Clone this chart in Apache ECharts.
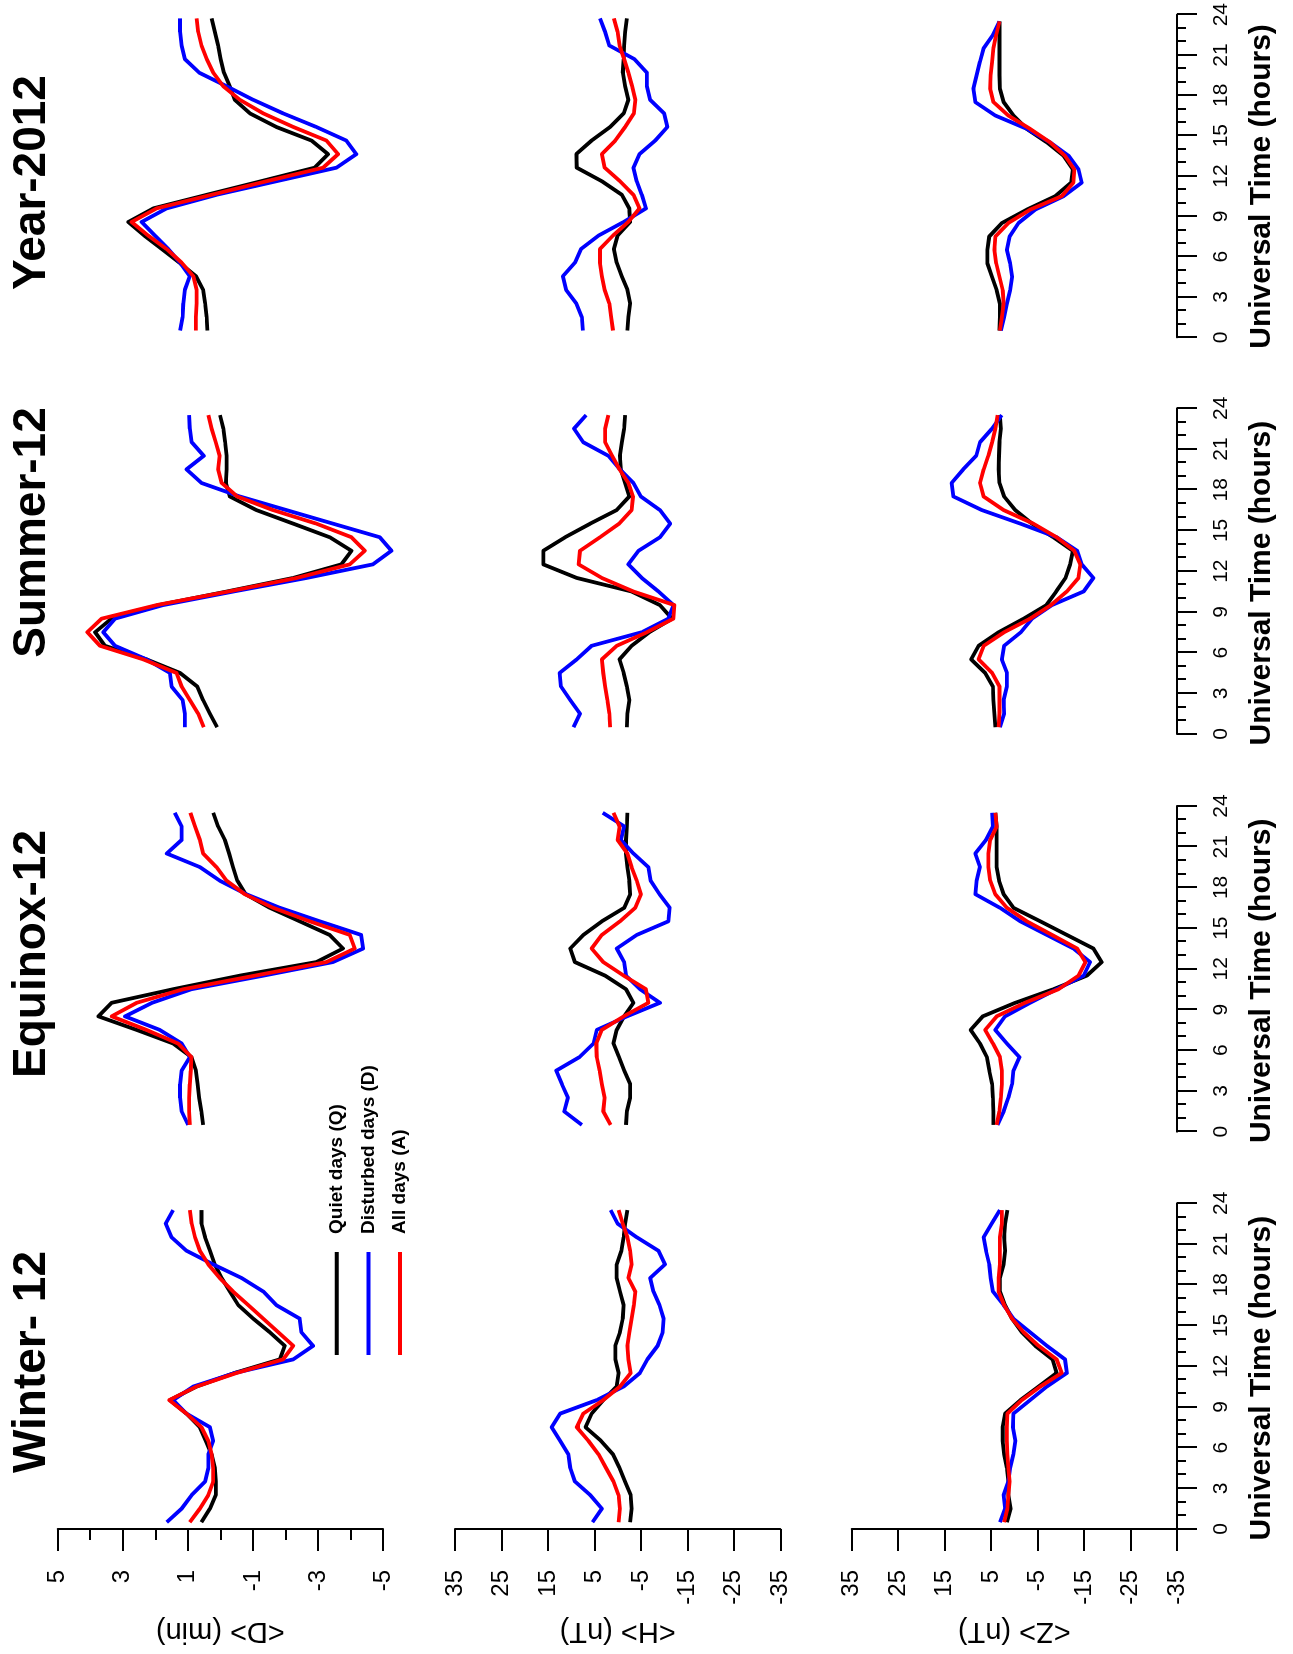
<!DOCTYPE html>
<html>
<head>
<meta charset="utf-8">
<script src="https://cdn.jsdelivr.net/npm/echarts@6/dist/echarts.min.js"></script>
<style>
html,body{margin:0;padding:0;background:#fff;overflow:hidden;width:1293px;height:1654px;}
#wrap{position:absolute;left:0;top:0;width:1654px;height:1293px;transform-origin:0 0;transform:translate(0,1654px) rotate(-90deg);}
#chart{width:1654px;height:1293px;background:#fff;}
</style>
</head>
<body>
<div id="wrap"><div id="chart"></div></div>
<script>
// ---------------- DATA ----------------
const hours = [0.5,1.5,2.5,3.5,4.5,5.5,6.5,7.5,8.5,9.5,10.5,11.5,12.5,13.5,14.5,15.5,16.5,17.5,18.5,19.5,20.5,21.5,22.5,23.5];
const seriesNames = ['Quiet days (Q)', 'Disturbed days (D)', 'All days (A)'];
const seasonTitles = ['Winter- 12', 'Equinox-12', 'Summer-12', 'Year-2012'];
const componentNames = ['<D> (min)', '<H> (nT)', '<Z> (nT)'];
const timeAxisTitle = 'Universal Time (hours)';

// Winter
const winterD_Q = [0.58,0.32,0.14,0.14,0.17,0.27,0.45,0.63,1.04,1.55,0.73,-0.44,-1.83,-1.98,-1.52,-1.01,-0.55,-0.29,-0.04,0.17,0.32,0.47,0.58,0.58];
const winterD_D = [1.65,1.19,0.88,0.47,0.37,0.37,0.22,0.32,1.04,1.45,0.83,-0.45,-2.24,-2.85,-2.49,-2.44,-1.72,-1.32,-0.65,0.22,1.04,1.50,1.68,1.45];
const winterD_A = [0.94,0.63,0.37,0.22,0.22,0.27,0.37,0.58,1.04,1.57,0.73,-0.50,-1.93,-2.24,-1.78,-1.32,-0.86,-0.39,0.02,0.37,0.63,0.78,0.88,0.94];
const winterH_Q = [-2.7,-3.0,-2.8,-1.6,-0.4,1.0,3.6,6.9,5.6,3.1,0.2,-0.2,0.5,0.5,-0.5,-1.1,-1.3,-0.5,0.2,0.2,-0.8,-1.3,-1.6,-2.1];
const winterH_D = [5.4,3.4,5.9,9.2,10.2,10.6,12.4,14.2,12.4,4.5,-1.3,-4.8,-6.4,-8.6,-9.7,-9.9,-9.0,-7.7,-7.0,-10.2,-8.8,-4.1,0.0,1.5];
const winterH_A = [-0.2,-0.5,-0.2,0.9,2.5,4.1,6.3,8.8,7.4,3.1,-0.5,-2.8,-2.3,-2.1,-2.5,-3.0,-3.5,-3.8,-2.3,-3.0,-2.7,-2.1,-1.1,-0.2];
const winterZ_Q = [1.6,0.8,1.3,1.3,1.6,2.2,2.5,2.5,2.0,-1.3,-5.2,-9.1,-8.2,-4.5,-1.6,0.5,2.0,3.1,3.1,2.3,2.0,2.2,2.0,1.5];
const winterZ_D = [3.1,2.0,2.3,1.3,0.9,0.2,-0.2,0.3,0.2,-3.4,-7.0,-11.3,-10.9,-7.0,-3.4,0.2,2.3,4.6,5.1,5.4,6.1,6.6,4.9,3.1];
const winterZ_A = [2.2,1.5,1.3,1.0,1.3,1.5,1.6,1.6,1.5,-1.6,-5.6,-10.2,-9.1,-5.2,-2.0,0.5,2.2,3.4,3.4,3.1,3.1,3.1,2.7,2.7];

// Equinox
const equinoxD_Q = [0.53,0.58,0.65,0.70,0.75,0.89,1.45,2.57,3.75,3.34,1.45,-0.60,-2.95,-3.77,-3.36,-2.44,-1.52,-0.78,-0.52,-0.39,-0.27,-0.14,0.07,0.22];
const equinoxD_D = [0.99,1.19,1.24,1.24,1.19,0.94,1.19,1.86,2.93,2.10,0.89,-1.32,-3.46,-4.39,-4.33,-3.06,-1.83,-0.80,0.02,0.63,1.65,1.19,1.19,1.40];
const equinoxD_A = [0.94,0.96,0.96,0.94,0.91,0.89,1.30,2.27,3.34,2.57,1.14,-1.06,-3.26,-4.13,-3.98,-2.75,-1.62,-0.75,-0.19,0.12,0.53,0.63,0.78,0.92];
const equinoxH_Q = [-1.8,-2.0,-2.7,-2.7,-1.4,-0.3,0.9,0.2,-1.4,-3.4,-1.8,2.7,9.2,10.2,7.4,3.4,-1.4,-2.7,-2.5,-2.1,-1.8,-1.8,-2.0,-2.1];
const equinoxH_D = [7.7,11.5,10.7,12.0,13.2,8.2,5.2,4.5,-2.0,-9.1,-4.8,-1.8,-1.4,0.2,-4.1,-10.9,-11.2,-9.0,-7.1,-6.6,-3.4,-0.7,-1.4,3.2];
const equinoxH_A = [1.5,3.1,2.8,3.4,3.9,4.5,4.6,3.4,-1.3,-6.6,-6.1,-1.3,3.1,5.6,3.4,-0.5,-3.8,-5.0,-4.1,-3.0,-2.1,0.0,-0.4,0.9];
const equinoxZ_Q = [4.5,4.5,4.6,4.8,5.4,5.9,7.4,9.4,6.8,-0.2,-8.4,-15.6,-18.8,-17.0,-11.3,-5.6,0.2,2.3,3.3,3.8,3.8,3.8,3.8,4.1];
const equinoxZ_D = [3.6,2.3,1.3,0.5,0.2,-1.1,1.6,4.1,2.0,-3.4,-9.1,-14.9,-16.3,-12.7,-7.0,-1.3,3.1,8.4,8.1,7.4,8.4,6.1,4.6,4.8];
const equinoxZ_A = [3.8,3.2,2.9,2.7,2.7,3.1,4.6,6.3,3.8,-2.3,-9.5,-13.8,-15.3,-13.5,-8.1,-2.7,1.6,4.1,5.2,5.6,5.6,5.2,3.8,4.1];

// Summer
const summerD_Q = [0.10,0.32,0.53,0.71,1.24,2.27,3.55,3.85,3.35,1.90,-0.20,-2.24,-3.72,-4.03,-3.36,-2.24,-1.11,-0.29,-0.17,-0.19,-0.19,-0.15,-0.09,0.01];
const summerD_D = [1.09,1.09,1.16,1.50,1.55,2.27,3.24,3.60,3.24,1.76,-0.40,-2.65,-4.69,-5.26,-4.90,-3.46,-2.03,-0.60,0.58,1.04,0.51,0.88,0.94,0.96];
const summerD_A = [0.51,0.68,0.94,1.19,1.35,2.37,3.70,4.09,3.65,1.96,-0.25,-2.35,-3.98,-4.44,-4.03,-2.95,-1.62,-0.52,-0.04,0.07,0.02,0.14,0.27,0.37];
const summerH_Q = [-2.0,-2.1,-2.5,-2.0,-1.3,-0.4,-3.0,-6.8,-11.7,-9.1,-3.0,8.8,16.0,16.0,11.3,5.9,0.2,-2.5,-1.6,-0.7,-0.5,-0.9,-1.4,-1.6];
const summerH_D = [9.5,8.1,10.2,12.2,12.5,8.8,5.6,-5.2,-10.9,-12.0,-8.8,-5.2,-2.3,-4.5,-9.1,-11.3,-9.1,-5.0,-3.4,-0.5,2.0,7.4,9.4,6.8];
const summerH_A = [1.6,1.8,2.2,2.7,3.1,3.4,0.2,-6.3,-12.0,-12.2,-3.4,3.4,8.4,8.1,3.8,-0.3,-3.0,-3.3,-2.3,-0.4,1.2,2.7,2.7,2.0];
const summerZ_Q = [4.1,4.3,4.5,4.6,6.3,9.3,7.7,3.4,-2.0,-6.9,-9.0,-11.0,-12.0,-12.6,-8.4,-3.8,-0.2,2.2,3.2,3.4,3.3,3.2,2.9,3.1];
const summerZ_D = [3.1,2.2,2.3,1.6,1.6,2.7,2.2,-1.4,-3.8,-8.1,-14.9,-17.0,-14.5,-13.5,-9.1,-1.3,7.0,13.1,13.5,11.0,8.2,7.4,4.8,2.7];
const summerZ_A = [3.4,3.2,3.2,3.2,4.8,7.7,6.6,2.2,-3.4,-7.9,-11.3,-13.8,-14.2,-12.9,-9.1,-4.1,2.3,6.6,7.4,6.6,5.6,4.8,4.1,3.6];

// Year
const yearD_Q = [0.40,0.42,0.47,0.53,0.75,1.26,1.80,2.34,2.83,2.06,0.42,-1.25,-2.90,-3.31,-2.80,-1.72,-0.91,-0.44,-0.29,-0.11,-0.01,0.07,0.17,0.27];
const yearD_D = [1.24,1.16,1.14,1.09,0.94,1.24,1.60,2.01,2.42,1.65,0.12,-1.72,-3.57,-4.18,-3.87,-2.95,-1.93,-1.01,-0.19,0.65,1.09,1.19,1.24,1.24];
const yearD_A = [0.75,0.75,0.73,0.73,0.83,1.19,1.65,2.22,2.73,1.96,0.27,-1.42,-3.16,-3.62,-3.26,-2.24,-1.32,-0.60,-0.09,0.22,0.42,0.58,0.68,0.73];
const yearH_Q = [-2.1,-2.3,-2.7,-2.1,-0.9,0.2,0.8,0.0,-2.7,-2.5,-0.9,3.4,8.8,8.9,5.6,1.6,-1.3,-2.3,-1.6,-1.1,-1.3,-1.4,-1.6,-2.0];
const yearH_D = [7.5,7.7,8.9,11.1,11.8,9.2,7.9,4.1,-1.3,-6.1,-5.2,-4.1,-3.4,-4.7,-8.1,-10.7,-10.0,-7.0,-6.3,-6.3,-3.6,1.8,2.7,3.8];
const yearH_A = [1.0,1.4,1.8,2.8,3.4,3.8,3.8,1.0,-2.3,-4.7,-3.4,-0.5,2.8,3.4,0.5,-1.6,-3.5,-3.8,-3.1,-2.3,-1.4,-0.4,0.0,0.8];
const yearZ_Q = [3.2,3.1,3.1,3.8,4.8,5.8,5.8,5.4,2.7,-2.7,-8.8,-12.2,-12.6,-10.6,-7.0,-2.7,0.2,2.3,3.1,3.2,3.2,3.2,3.2,3.2];
const yearZ_D = [2.9,2.2,1.6,0.9,0.5,0.9,1.6,1.0,-0.9,-4.5,-10.6,-14.5,-13.8,-11.7,-7.7,-2.7,4.1,8.4,8.8,8.1,7.4,6.6,4.6,3.2];
const yearZ_A = [3.1,2.7,2.3,2.5,3.2,3.9,4.3,4.1,1.3,-3.4,-10.2,-12.7,-12.9,-10.9,-7.7,-3.4,1.3,4.5,5.2,5.1,4.8,4.5,3.9,3.2];

// [component row][season column] -> [Q, D, A]
const panels = [
  [[winterD_Q,winterD_D,winterD_A],[equinoxD_Q,equinoxD_D,equinoxD_A],[summerD_Q,summerD_D,summerD_A],[yearD_Q,yearD_D,yearD_A]],
  [[winterH_Q,winterH_D,winterH_A],[equinoxH_Q,equinoxH_D,equinoxH_A],[summerH_Q,summerH_D,summerH_A],[yearH_Q,yearH_D,yearH_A]],
  [[winterZ_Q,winterZ_D,winterZ_A],[equinoxZ_Q,equinoxZ_D,equinoxZ_A],[summerZ_Q,summerZ_D,summerZ_A],[yearZ_Q,yearZ_D,yearZ_A]]
];
const valueRanges = [[-5, 5, 2], [-35, 35, 10], [-35, 35, 10]];

// ---------------- LAYOUT / STYLE ----------------
const FONT = '"Liberation Sans", Arial, Helvetica, sans-serif';
const colors = ['#000000', '#0000ff', '#ff0000'];
const gridLeft = [125, 522.3, 920, 1316.7];
const gridTop = [57.7, 455, 851.7];
const gridW = 325.7, gridH = 325.3;
const titleX = [292, 700, 1121.5, 1471.5];

const grids = [], xAxes = [], yAxes = [], series = [], graphics = [];
for (let r = 0; r < 3; r++) {
  for (let c = 0; c < 4; c++) {
    const gi = r * 4 + c;
    grids.push({left: gridLeft[c], top: gridTop[r], width: gridW, height: gridH, containLabel: false});
    const showX = (r === 2);
    xAxes.push({
      type: 'value', gridIndex: gi, min: 0, max: 24, interval: 3, show: showX,
      axisLine: {show: true, onZero: false, lineStyle: {color: '#000', width: 2}},
      axisTick: {show: true, length: 20, lineStyle: {color: '#000', width: 2}},
      minorTick: {show: true, splitNumber: 3, length: 9, lineStyle: {color: '#000', width: 2}},
      axisLabel: {show: true, color: '#000', fontSize: 21, fontFamily: FONT, margin: 34},
      splitLine: {show: false}, minorSplitLine: {show: false}
    });
    const vr = valueRanges[r];
    const showY = (c === 0);
    yAxes.push({
      type: 'value', gridIndex: gi, min: vr[0], max: vr[1], interval: vr[2], show: showY,
      axisLine: {show: true, onZero: false, lineStyle: {color: '#000', width: 2}},
      axisTick: {show: true, length: 22, lineStyle: {color: '#000', width: 2}},
      minorTick: {show: r === 0, splitNumber: 2, length: 11, lineStyle: {color: '#000', width: 2}},
      axisLabel: {show: true, color: '#000', fontSize: 24, fontFamily: FONT, margin: 41},
      splitLine: {show: false}, minorSplitLine: {show: false}
    });
    for (let s = 0; s < 3; s++) {
      const vals = panels[r][c][s];
      series.push({
        type: 'line', name: seriesNames[s], xAxisIndex: gi, yAxisIndex: gi,
        data: hours.map((h, k) => [h, vals[k]]),
        showSymbol: false, symbol: 'none', silent: true, clip: false,
        color: colors[s], itemStyle: {color: colors[s]},
        lineStyle: {color: colors[s], width: 3.8, join: 'round', cap: 'butt'},
        z: 2 + s
      });
    }
  }
}

// Season titles and time-axis titles
for (let c = 0; c < 4; c++) {
  graphics.push({type: 'text', x: titleX[c], y: 32, silent: true,
    style: {text: seasonTitles[c], font: 'bold 46px ' + FONT, fill: '#000', textAlign: 'center', textVerticalAlign: 'middle', verticalAlign: 'middle'}});
  graphics.push({type: 'text', x: gridLeft[c] + gridW / 2 - 12, y: 1262, silent: true,
    style: {text: timeAxisTitle, font: 'bold 30px ' + FONT, fill: '#000', textAlign: 'center', textVerticalAlign: 'middle', verticalAlign: 'middle'}});
}
// Component axis names (vertical)
for (let r = 0; r < 3; r++) {
  graphics.push({type: 'text', x: 23, y: gridTop[r] + gridH / 2, rotation: Math.PI / 2, silent: true,
    style: {text: componentNames[r], font: '29px ' + FONT, fill: '#000', textAlign: 'center', textVerticalAlign: 'middle', verticalAlign: 'middle'}});
}

const option = {
  animation: false,
  backgroundColor: '#fff',
  grid: grids,
  xAxis: xAxes,
  yAxis: yAxes,
  legend: {
    orient: 'vertical', left: 299, top: 326.7, padding: 0,
    itemWidth: 103, itemHeight: 4, itemGap: 11.7, icon: 'rect',
    selectedMode: false,
    data: seriesNames,
    textStyle: {fontSize: 19, fontWeight: 'bold', fontFamily: FONT, color: '#000', lineHeight: 20, padding: [0, 0, 0, 13]}
  },
  graphic: graphics,
  series: series
};
const chart = echarts.init(document.getElementById('chart'), null, {renderer: 'canvas', width: 1654, height: 1293});
chart.setOption(option);
</script>
</body>
</html>
